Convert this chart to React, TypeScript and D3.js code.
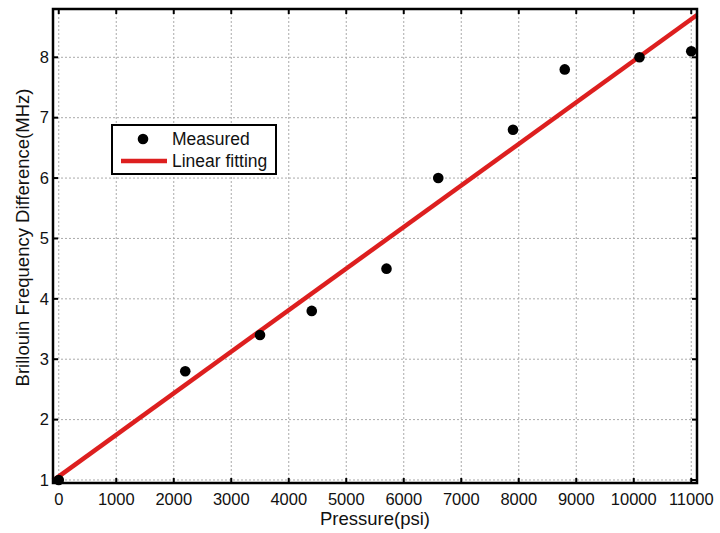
import React from "react";
import * as d3 from "d3";

const pressure = [0, 2200, 3500, 4400, 5700, 6600, 7900, 8800, 10100, 11000];
const measured = [1.0, 2.8, 3.4, 3.8, 4.5, 6.0, 6.8, 7.8, 8.0, 8.1];
const fitX = [-100, 11100];
const fitY = [0.99, 8.7];
const xTicks = [0, 1000, 2000, 3000, 4000, 5000, 6000, 7000, 8000, 9000, 10000, 11000];
const yTicks = [1, 2, 3, 4, 5, 6, 7, 8];

export default function App() {
  const W = 720, H = 533;
  const left = 53, right = 697, top = 9, bottom = 483;
  const x = d3.scaleLinear().domain([-100, 11100]).range([left, right]);
  const y = d3.scaleLinear().domain([0.95, 8.8]).range([bottom, top]);
  const font = "'Liberation Sans', Arial, sans-serif";
  const line = d3.line<number>().x((_, i) => x(fitX[i])).y((d) => y(d));
  return (
    <svg width={W} height={H} style={{ position: "absolute", left: 0, top: 0, background: "#fff" }}>
      <rect x={0} y={0} width={W} height={H} fill="#fff" />
      {xTicks.map((t) => (
        <line key={"gx" + t} x1={x(t)} x2={x(t)} y1={top} y2={bottom} stroke="#aaa" strokeWidth={1} strokeDasharray="2,2" />
      ))}
      {yTicks.map((t) => (
        <line key={"gy" + t} x1={left} x2={right} y1={y(t)} y2={y(t)} stroke="#aaa" strokeWidth={1} strokeDasharray="2,2" />
      ))}
      {xTicks.map((t) => (
        <g key={"tx" + t}>
          <line x1={x(t)} x2={x(t)} y1={bottom} y2={bottom - 5} stroke="#000" strokeWidth={2} />
          <line x1={x(t)} x2={x(t)} y1={top} y2={top + 5} stroke="#000" strokeWidth={2} />
          <text x={x(t)} y={505} textAnchor="middle" fontFamily={font} fontSize={16.5} fill="#111">{t}</text>
        </g>
      ))}
      {yTicks.map((t) => (
        <g key={"ty" + t}>
          <line x1={left} x2={left + 5} y1={y(t)} y2={y(t)} stroke="#000" strokeWidth={2} />
          <line x1={right} x2={right - 5} y1={y(t)} y2={y(t)} stroke="#000" strokeWidth={2} />
          <text x={49} y={y(t)} dy="0.35em" textAnchor="end" fontFamily={font} fontSize={16.5} fill="#111">{t}</text>
        </g>
      ))}
      <path d={line(fitY) || ""} stroke="#dd1f1f" strokeWidth={4.5} fill="none" />
      {pressure.map((p, i) => (
        <circle key={"p" + i} cx={x(p)} cy={y(measured[i])} r={5.3} fill="#000" />
      ))}
      <rect x={left} y={top} width={right - left} height={bottom - top} fill="none" stroke="#000" strokeWidth={2.5} />
      <g>
        <rect x={112} y={125} width={164} height={49} fill="#fff" stroke="#000" strokeWidth={2} />
        <circle cx={143} cy={139} r={5.3} fill="#000" />
        <line x1={121} x2={167} y1={161} y2={161} stroke="#dd1f1f" strokeWidth={4.5} />
        <text x={172} y={139} dy="0.35em" fontFamily={font} fontSize={17.5} fill="#111">Measured</text>
        <text x={172} y={161} dy="0.35em" fontFamily={font} fontSize={17.5} fill="#111">Linear fitting</text>
      </g>
      <text x={375} y={525} textAnchor="middle" fontFamily={font} fontSize={18.5} fill="#111">Pressure(psi)</text>
      <text transform={`translate(29, ${(78 + 397) / 2}) rotate(-90)`} textAnchor="middle" fontFamily={font} fontSize={18.5} fill="#111">Brillouin Frequency Difference(MHz)</text>
    </svg>
  );
}
